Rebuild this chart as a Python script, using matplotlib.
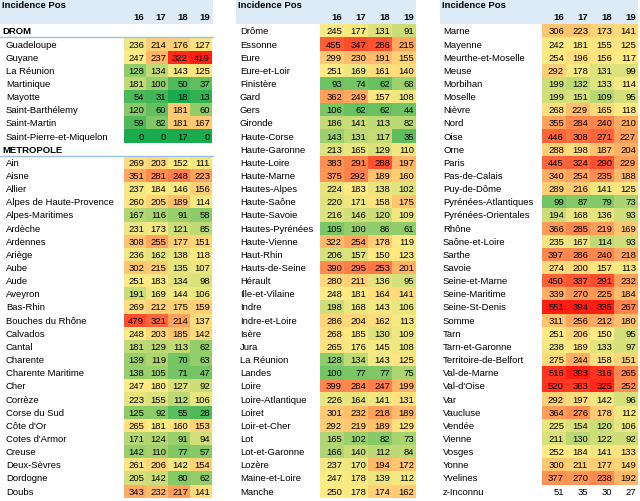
import matplotlib
matplotlib.use("Agg")
import matplotlib.pyplot as plt
import numpy as np
from matplotlib.colors import LinearSegmentedColormap
from matplotlib.patches import Rectangle

years = ["16", "17", "18", "19"]

drom_names = ["Guadeloupe", "Guyane", "La Réunion", "Martinique", "Mayotte",
              "Saint-Barthélemy", "Saint-Martin", "Saint-Pierre-et-Miquelon"]
drom_vals = [[236, 214, 176, 127], [247, 237, 322, 419], [128, 134, 143, 125],
             [181, 100, 50, 37], [54, 31, 18, 13], [120, 60, 181, 60],
             [59, 82, 181, 167], [0, 0, 17, 0]]

met1_names = ["Ain", "Aisne", "Allier", "Alpes de Haute-Provence", "Alpes-Maritimes",
              "Ardèche", "Ardennes", "Ariège", "Aube", "Aude", "Aveyron", "Bas-Rhin",
              "Bouches du Rhône", "Calvados", "Cantal", "Charente", "Charente Maritime",
              "Cher", "Corrèze", "Corse du Sud", "Côte d'Or", "Cotes d'Armor", "Creuse",
              "Deux-Sèvres", "Dordogne", "Doubs"]
met1_vals = [[269, 203, 152, 111], [351, 281, 248, 223], [237, 184, 146, 156],
             [260, 205, 189, 114], [167, 116, 91, 58], [231, 173, 121, 85],
             [308, 255, 177, 151], [236, 162, 138, 118], [302, 215, 135, 107],
             [251, 183, 134, 98], [191, 169, 144, 106], [269, 212, 175, 159],
             [479, 321, 214, 137], [248, 203, 185, 142], [181, 129, 113, 62],
             [139, 119, 70, 63], [138, 105, 71, 47], [247, 180, 127, 92],
             [223, 155, 112, 106], [125, 92, 55, 28], [265, 181, 160, 153],
             [171, 124, 91, 94], [142, 110, 77, 57], [261, 206, 142, 154],
             [205, 142, 80, 62], [343, 232, 217, 141]]

met2_names = ["Drôme", "Essonne", "Eure", "Eure-et-Loir", "Finistère", "Gard", "Gers",
              "Gironde", "Haute-Corse", "Haute-Garonne", "Haute-Loire", "Haute-Marne",
              "Hautes-Alpes", "Haute-Saône", "Haute-Savoie", "Hautes-Pyrénées",
              "Haute-Vienne", "Haut-Rhin", "Hauts-de-Seine", "Hérault", "Ille-et-Vilaine",
              "Indre", "Indre-et-Loire", "Isère", "Jura", "La Réunion", "Landes", "Loire",
              "Loire-Atlantique", "Loiret", "Loir-et-Cher", "Lot", "Lot-et-Garonne",
              "Lozère", "Maine-et-Loire", "Manche"]
met2_vals = [[245, 177, 131, 91], [455, 347, 286, 215], [299, 230, 191, 155],
             [251, 169, 161, 140], [93, 74, 62, 68], [362, 249, 157, 108],
             [106, 62, 62, 44], [186, 141, 113, 82], [143, 131, 117, 35],
             [213, 165, 129, 110], [383, 291, 288, 197], [375, 292, 189, 160],
             [224, 183, 138, 102], [220, 171, 158, 175], [216, 146, 120, 109],
             [105, 100, 86, 61], [322, 254, 178, 119], [206, 157, 150, 123],
             [390, 295, 253, 201], [280, 211, 136, 95], [248, 181, 164, 141],
             [198, 168, 143, 106], [286, 204, 162, 113], [268, 185, 130, 109],
             [265, 176, 145, 108], [128, 134, 143, 125], [100, 77, 77, 75],
             [399, 284, 247, 199], [226, 164, 141, 131], [301, 232, 218, 189],
             [292, 219, 189, 129], [165, 102, 82, 73], [166, 140, 112, 84],
             [237, 170, 194, 172], [247, 178, 139, 112], [250, 178, 174, 162]]

met3_names = ["Marne", "Mayenne", "Meurthe-et-Moselle", "Meuse", "Morbihan", "Moselle",
              "Nièvre", "Nord", "Oise", "Orne", "Paris", "Pas-de-Calais", "Puy-de-Dôme",
              "Pyrénées-Atlantiques", "Pyrénées-Orientales", "Rhône", "Saône-et-Loire",
              "Sarthe", "Savoie", "Seine-et-Marne", "Seine-Maritime", "Seine-St-Denis",
              "Somme", "Tarn", "Tarn-et-Garonne", "Territoire-de-Belfort", "Val-de-Marne",
              "Val-d'Oise", "Var", "Vaucluse", "Vendée", "Vienne", "Vosges", "Yonne",
              "Yvelines"]
met3_vals = [[306, 223, 173, 141], [242, 181, 155, 125], [254, 196, 156, 117],
             [292, 178, 131, 99], [199, 132, 133, 114], [199, 151, 109, 95],
             [268, 229, 165, 118], [355, 284, 240, 210], [446, 308, 271, 227],
             [288, 198, 187, 204], [445, 324, 290, 229], [340, 254, 235, 188],
             [289, 216, 141, 125], [99, 87, 79, 73], [194, 168, 136, 93],
             [366, 285, 219, 169], [235, 167, 114, 93], [397, 286, 240, 218],
             [274, 200, 157, 113], [450, 337, 291, 232], [339, 270, 225, 184],
             [551, 394, 335, 267], [311, 256, 212, 180], [251, 206, 150, 95],
             [238, 189, 133, 97], [275, 244, 158, 151], [516, 393, 316, 265],
             [520, 363, 325, 252], [292, 197, 142, 96], [364, 276, 178, 112],
             [225, 154, 120, 106], [211, 130, 122, 92], [252, 184, 141, 133],
             [300, 211, 177, 149], [377, 270, 238, 192]]
inconnu_vals = [51, 35, 30, 27]

cmap = LinearSegmentedColormap.from_list("gyr", ["#1AAB4E", "#FFEB84", "#FF1E14"])
allv = np.array(drom_vals + met1_vals + met2_vals + met3_vals, dtype=float)
cmin, cmed, cmax = allv.min(0), np.median(allv, 0), allv.max(0)


def color(v, j):
    if v <= cmed[j]:
        t = 0.5 * (v - cmin[j]) / (cmed[j] - cmin[j])
    else:
        t = 0.5 + 0.5 * (v - cmed[j]) / (cmax[j] - cmed[j])
    return cmap(t)


plt.rcParams["font.family"] = "Liberation Sans"
fig = plt.figure(figsize=(6.4, 5.02), dpi=100)
ax = fig.add_axes([0, 0, 1, 1])
ax.set_xlim(0, 640)
ax.set_ylim(502, 0)
ax.axis("off")

pitch = 13.15
y0 = 45.0
hdr = "#DDEBF7"
fs = 6.8


def panel(x_band, x_cell, cw, x_end):
    ax.add_patch(Rectangle((x_band, 0), x_end - x_band, 25, color=hdr, lw=0))
    ax.text(x_band + 2, 6, "Incidence Pos", fontsize=fs, fontweight="bold", va="center")
    for j, yr in enumerate(years):
        ax.text(x_cell + (j + 1) * cw - 2, 18, yr, fontsize=fs, fontweight="bold",
                ha="right", va="center")


def rows(names, vals, start, x_lab, x_cell, cw, colored=True):
    for i, (n, row) in enumerate(zip(names, vals)):
        y = y0 + (start + i) * pitch
        ax.text(x_lab, y, n, fontsize=fs, va="center")
        for j, v in enumerate(row):
            if colored:
                ax.add_patch(Rectangle((x_cell + j * cw, y - pitch / 2), cw, pitch,
                                       color=color(v, j), lw=0))
            ax.text(x_cell + (j + 1) * cw - 2, y, str(v), fontsize=fs,
                    ha="right", va="center")


def section(label, idx, x_end):
    y = y0 + idx * pitch
    ax.text(2, y, label, fontsize=fs, fontweight="bold", va="center")
    ax.plot([0, x_end], [y + pitch / 2, y + pitch / 2], color="#9BC2E6", lw=1)


# panel 1
panel(0, 124, 22, 213)
section("DROM", -1, 213)
rows(drom_names, drom_vals, 0, 6, 124, 22)
section("METROPOLE", 8, 213)
rows(met1_names, met1_vals, 9, 6, 124, 22)

# panel 2
panel(236, 320, 24, 416)
rows(met2_names, met2_vals, -1, 240, 320, 24)

# panel 3
panel(440, 542, 24, 638)
rows(met3_names, met3_vals, -1, 443, 542, 24)
rows(["z-Inconnu"], [inconnu_vals], 34, 443, 542, 24, colored=False)

fig.savefig("out.png", dpi=100)
